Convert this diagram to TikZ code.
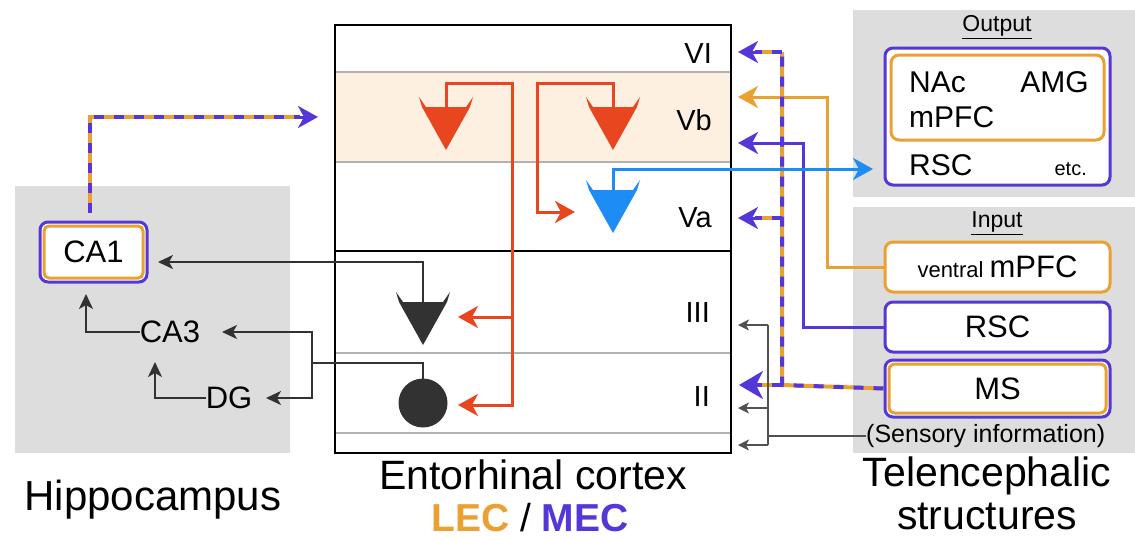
\documentclass[tikz,border=0pt]{standalone}
\usepackage{fontspec}
\setmainfont{Liberation Sans}
\usetikzlibrary{arrows.meta}
\definecolor{pur}{RGB}{85,55,215}
\definecolor{org}{RGB}{235,160,50}
\definecolor{rd}{RGB}{232,70,30}
\definecolor{bl}{RGB}{30,140,245}
\definecolor{gbox}{RGB}{221,221,221}
\definecolor{band}{RGB}{253,240,224}
\definecolor{dk}{RGB}{50,50,50}
\newcommand{\fs}[1]{\fontsize{#1}{#1}\selectfont}
\tikzset{
  bigtip/.style={-{Stealth[length=20pt,width=22pt,inset=6pt]}},
  smalltip/.style={-{Stealth[length=15pt,width=14pt,inset=4pt]}},
  graytip/.style={-{Stealth[length=11pt,width=11pt,inset=3pt]}},
  purline/.style={pur,line width=3pt},
  orgline/.style={org,line width=3pt},
  redline/.style={rd,line width=3pt},
  blueline/.style={bl,line width=3pt},
  dkline/.style={dk,line width=1.8pt},
  grline/.style={dk!85,line width=1.3pt},
  layerline/.style={black!30,line width=1.5pt},
  dashpur/.style={pur,line width=4pt,dash pattern=on 10pt off 10pt},
  dashorg/.style={org,line width=4pt},
  boxp/.style={draw=pur,line width=3pt,rounded corners=8pt,fill=white,inner sep=0pt},
  boxo/.style={draw=org,line width=3pt,rounded corners=8pt,fill=white,inner sep=0pt},
  lbl/.style={inner sep=0pt,font=\fs{31}},
  lay/.style={inner sep=0pt,anchor=east,font=\fs{29}},
  big/.style={inner sep=0pt,font=\fs{41}},
}
\newcommand{\pyr}[3]{\fill[#3,shift={(#1,#2)}] (0,43) -- (-24,0) -- (-27,-10) -- (-20,0) -- (20,0) -- (27,-10) -- (24,0) -- cycle;}
\begin{document}
\begin{tikzpicture}[x=1pt,y=-1pt]
\useasboundingbox (0,0) rectangle (1135,539);
% gray backgrounds
\fill[gbox] (15,186) rectangle (290,453);
\fill[gbox] (853,10) rectangle (1135,197);
\fill[gbox] (853,207) rectangle (1135,453);
% entorhinal box
\fill[band] (335,72) rectangle (731,162);
\draw[layerline] (335,72) -- (731,72);
\draw[layerline] (335,162) -- (731,162);
\draw[layerline] (335,353) -- (731,353);
\draw[layerline] (335,433) -- (731,433);
\draw[black,line width=2pt] (335,251) -- (731,251);
\draw[black,line width=2.2pt] (335,25) rectangle (731,453);
% layer labels
\node[lay] (lVI) at (712,54) {VI};
\node[lay] (lVb) at (712,120) {Vb};
\node[lay] (lVa) at (712,218) {Va};
\node[lay] (lIII) at (710,313) {III};
\node[lay] (lII) at (710,397) {II};
% hippocampus nodes
\node[boxp,minimum width=107pt,minimum height=60pt] (ca1) at (93.5,252) {};
\draw[org,line width=3pt,rounded corners=5pt] ([shift={(5.5,5.5)}]ca1.north west) rectangle ([shift={(-5.5,-5.5)}]ca1.south east);
\node[lbl] (ca1t) at (93.5,252) {CA1};
\node[lbl] (ca3) at (170,332) {CA3};
\node[lbl] (dg) at (229,398) {DG};
\draw[dkline,smalltip] (ca3.west) -- (86,332) -- (86,294);
\draw[dkline,smalltip] (dg.west) -- (155,398) -- (155,362);
% output box
\node[boxp,minimum width=225pt,minimum height=137pt] (out) at (997.5,116.5) {};
\draw[org,line width=3pt,rounded corners=8pt] (891,55) rectangle (1104,140);
\node[inner sep=0pt,font=\fs{23}] (outt) at (997,27) {\underline{Output}};
\node[inner sep=0pt,anchor=west,font=\fs{30}] (nac) at (909,82) {NAc};
\node[inner sep=0pt,anchor=east,font=\fs{30}] (amg) at (1089,82) {AMG};
\node[inner sep=0pt,anchor=west,font=\fs{30}] (mpfc) at (909,117) {mPFC};
\node[inner sep=0pt,anchor=west,font=\fs{30}] (rsco) at (909,165) {RSC};
\node[inner sep=0pt,anchor=east,font=\fs{20}] (etc) at (1087,169) {etc.};
% input boxes
\node[inner sep=0pt,font=\fs{23}] (int) at (997,223) {\underline{Input}};
\node[boxo,minimum width=225pt,minimum height=50pt] (vm) at (997.5,267) {\fs{22}ventral \fs{31}mPFC};
\node[boxp,minimum width=225pt,minimum height=50pt] (rsc) at (997.5,327) {\fs{31}RSC};
\node[boxp,minimum width=225pt,minimum height=57pt] (ms) at (997.5,388.5) {};
\draw[org,line width=3pt,rounded corners=6pt] ([shift={(5.5,5.5)}]ms.north west) rectangle ([shift={(-5.5,-5.5)}]ms.south east);
\node[lbl] (mst) at (997.5,388.5) {MS};
\node[inner sep=0pt,anchor=west,font=\fs{25}] (sens) at (866,436) {(Sensory information)};
% bottom labels
\node[big,font=\fs{42}] (hip) at (153,500) {Hippocampus};
\node[big] (ec) at (533,475) {Entorhinal cortex};
\node[big,font=\fs{39}] (lm) at (530,518) {\textcolor{org}{\textbf{LEC}} / \textcolor{pur}{\textbf{MEC}}};
\node[big] (tel1) at (987,476) {Telencephalic};
\node[big] (tel2) at (987,516) {structures};
% cells
\pyr{446}{107}{rd}
\pyr{613}{107}{rd}
\pyr{613}{190}{bl}
\pyr{423}{302}{dk}
\fill[dk] (423,403) circle (24.5);
\coordinate (r1) at (446,107);
\coordinate (r2) at (613,107);
\coordinate (b1) at (613,190);
\coordinate (k3) at (423,302);
\coordinate (k2) at (423,379);
\coordinate (ca1in) at (158,262);
\coordinate (ca3in) at (222,332);
\coordinate (dgin) at (266,398);
% red projections
\draw[redline,bigtip] (r1) -- (446,83) -- (512,83) -- (512,405) -- (458,405);
\draw[redline,bigtip] (512,317) -- (458,317);
\draw[redline,bigtip] (r2) -- (613,83) -- (537,83) -- (537,212) -- (575,212);
% black projections
\draw[dkline,smalltip] (k3) -- (423,262) -- (ca1in);
\draw[dkline] (k2) -- (423,363) -- (312,363);
\draw[dkline,smalltip] (312,363) -- (312,332) -- (ca3in);
\draw[dkline,smalltip] (312,363) -- (312,398) -- (dgin);
% CA1 dashed output
\coordinate (ca1top) at (90,213);
\draw[dashorg] (ca1top) -- (90,117) -- (300,117);
\draw[dashpur] (ca1top) -- (90,117) -- (300,117);
\draw[pur,line width=3pt,bigtip] (299,117) -- (318,117);
% telencephalic inputs
\draw[orgline,bigtip] (vm.west) -- (827,267) -- (827,97) -- (738,97);
\draw[purline,bigtip] (rsc.west) -- (803,327) -- (803,143) -- (738,143);
\draw[dashorg] (ms.west) -- (782,385) -- (782,52);
\draw[dashorg] (782,385) -- (755,385);
\draw[dashorg] (782,52) -- (755,52);
\draw[dashorg] (782,218) -- (755,218);
\draw[dashpur] (ms.west) -- (782,385) -- (782,52);
\draw[dashpur] (782,52) -- (755,52);
\draw[dashpur] (782,218) -- (755,218);
\draw[dashpur] (782,385) -- (755,385);
\draw[pur,line width=3pt,bigtip] (757,52) -- (738,52);
\draw[pur,line width=3pt,bigtip] (757,218) -- (738,218);
\draw[pur,line width=3pt,-{Stealth[length=24pt,width=28pt,inset=7pt]}] (757,385) -- (739,385);
% sensory
\draw[grline] (sens.west) -- (768,436);
\draw[grline] (768,325) -- (768,445);
\draw[grline,graytip] (768,325) -- (738,325);
\draw[grline,graytip] (768,408) -- (738,408);
\draw[grline,graytip] (768,445) -- (738,445);
% blue output
\draw[blueline,bigtip] (b1) -- (613,169) -- (873,169);
\end{tikzpicture}
\end{document}
